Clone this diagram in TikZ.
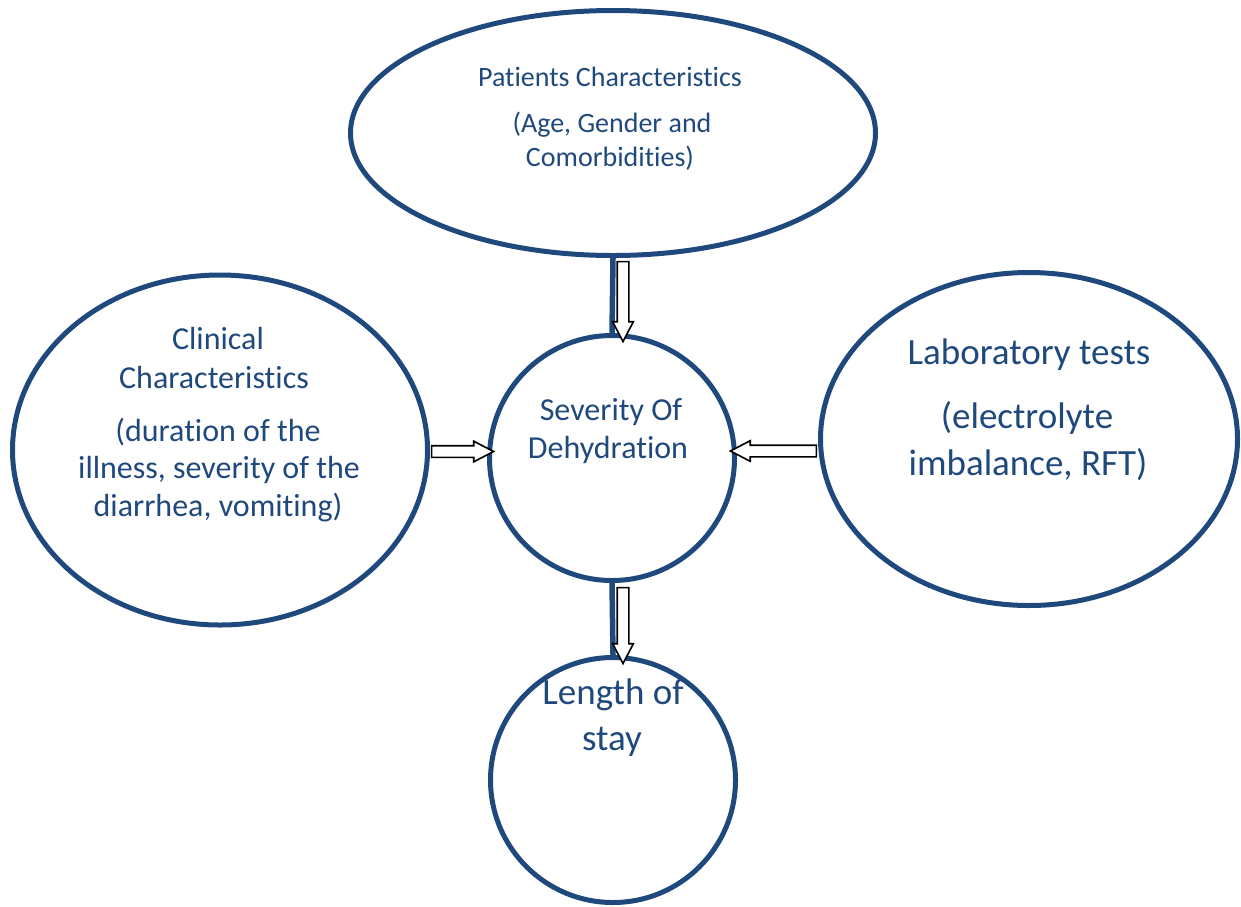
\documentclass[tikz,border=0pt]{standalone}
\usepackage{fontspec}
\setmainfont{Carlito}[Ligatures={NoCommon}]
\usetikzlibrary{shapes.geometric,shapes.arrows}
\definecolor{navy}{RGB}{31,73,125}
\begin{document}
\begin{tikzpicture}[x=1pt,y=-1pt,
  bubble/.style={draw=navy, line width=5pt, ellipse, inner sep=0pt},
  link/.style={draw=navy, line width=5.5pt},
  blk/.style={single arrow, draw=black, fill=white, line width=1.6pt, inner sep=5pt,
    single arrow head extend=4.5pt, single arrow tip angle=55, single arrow head indent=0pt},
  lbl/.style={text=navy, inner sep=0pt, anchor=center}]
\path[use as bounding box] (0,0) rectangle (1241,906);
% bubbles
\node[bubble, minimum width=525pt, minimum height=245pt] (top) at (613,133) {};
\node[bubble, minimum width=415pt, minimum height=350pt] (left) at (220,450) {};
\node[bubble, minimum width=245pt, minimum height=245pt] (center) at (612,458) {};
\node[bubble, minimum width=417pt, minimum height=333pt] (right) at (1029,439) {};
\node[bubble, minimum width=245pt, minimum height=245pt] (bottom) at (613,780) {};
% links
\draw[link] (top.south) -- (center.north);
\draw[link] (center.south) -- (bottom.north);
% block arrows
\node[blk, rotate=-90, minimum height=80pt] (a1) at (623,296) {};
\node[blk, rotate=-90, minimum height=76pt] (a2) at (623,620) {};
\node[blk, minimum height=62pt] (a3) at (457,451.5) {};
\node[blk, rotate=180, minimum height=86pt] (a4) at (779,451) {};
% labels
\begin{scope}[font=\fontsize{28}{32}\selectfont]
\node[lbl] (t1) at (610,77) {Patients Characteristics};
\node[lbl] (t2) at (612,125) {(Age, Gender and};
\node[lbl] (t3) at (610,158) {Comorbidities)};
\end{scope}
\begin{scope}[font=\fontsize{32}{36}\selectfont]
\node[lbl] (l1) at (218,338) {Clinical};
\node[lbl] (l2) at (214,377) {Characteristics};
\node[lbl] (l3) at (218,432) {(duration of the};
\node[lbl] (l4) at (219,470) {illness, severity of the};
\node[lbl] (l5) at (218,508) {diarrhea, vomiting)};
\end{scope}
\begin{scope}[font=\fontsize{32}{36}\selectfont]
\node[lbl] (c1) at (611,412) {Severity Of};
\node[lbl] (c2) at (608,450) {Dehydration};
\end{scope}
\begin{scope}[font=\fontsize{37}{42}\selectfont]
\node[lbl] (r1) at (1029,355) {Laboratory tests};
\node[lbl] (r2) at (1027,418) {(electrolyte};
\node[lbl] (r3) at (1028,465) {imbalance, RFT)};
\end{scope}
\begin{scope}[font=\fontsize{37}{42}\selectfont]
\node[lbl] (b1) at (613,695) {Length of};
\node[lbl] (b2) at (612,742) {stay};
\end{scope}
\end{tikzpicture}
\end{document}
